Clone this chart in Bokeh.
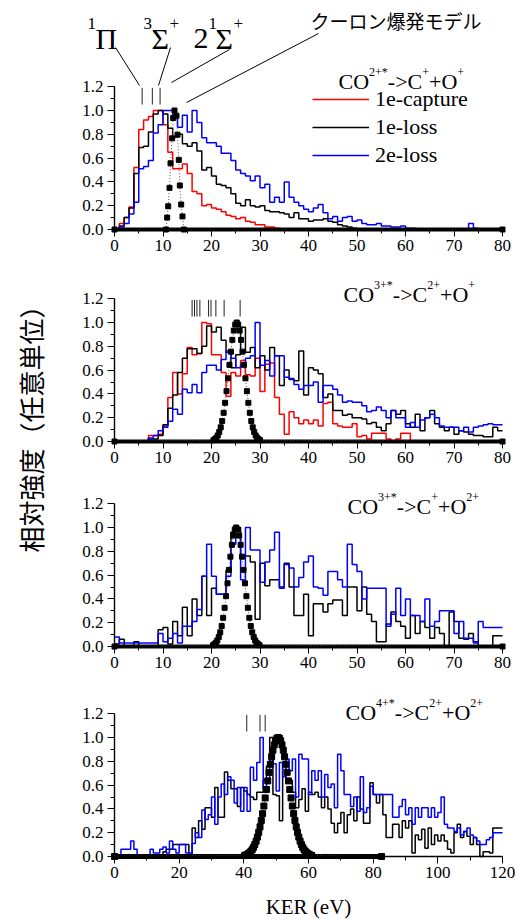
import math
from bokeh.plotting import figure
from bokeh.models import (Range1d, LinearAxis, FixedTicker, PrintfTickFormatter,
                          Label, Legend, LegendItem)
from bokeh.embed import file_html
from bokeh.resources import INLINE

# ------------------------------------------------------------------ data
edges80 = list(range(0, 81))
edges120 = list(range(0, 121))

y_ticks = [0.0, 0.2, 0.4, 0.6, 0.8, 1.0, 1.2]
y_minor = [0.1, 0.3, 0.5, 0.7, 0.9, 1.1]
x_ticks80 = [0, 10, 20, 30, 40, 50, 60, 70, 80]
x_minor80 = [5, 15, 25, 35, 45, 55, 65, 75]
x_ticks120 = [0, 20, 40, 60, 80, 100, 120]
x_minor120 = [10, 30, 50, 70, 90, 110]

series_names = ["1e-capture", "1e-loss", "2e-loss"]

# panel 1: CO2+* -> C+ + O+
p1_capture = [0.00, 0.05, 0.10, 0.19, 0.52, 0.84, 0.92, 0.95, 1.00, 1.00,
              0.88, 0.65, 0.51, 0.51, 0.55, 0.47, 0.32, 0.30, 0.20, 0.21,
              0.18, 0.17, 0.15, 0.12, 0.11, 0.09, 0.10, 0.07, 0.06, 0.04,
              0.04, 0.02, 0.02, 0.01, 0.00, 0.00, 0.00, 0.00, 0.00, 0.00,
              0.00, 0.00, 0.00, 0.00, 0.00, 0.00, 0.00, 0.00, 0.00, 0.00,
              0.00, 0.00, 0.00, 0.00, 0.00, 0.00, 0.00, 0.00, 0.00, 0.00,
              0.00, 0.00, 0.00, 0.00, 0.00, 0.00, 0.00, 0.00, 0.00, 0.00,
              0.00, 0.00, 0.00, 0.00, 0.00, 0.00, 0.00, 0.00, 0.00, 0.00]
p1_loss1 = [0.00, 0.03, 0.10, 0.18, 0.47, 0.69, 0.70, 0.82, 0.97, 1.00,
            0.97, 0.85, 0.78, 0.80, 0.72, 0.70, 0.73, 0.66, 0.50, 0.52,
            0.45, 0.38, 0.37, 0.35, 0.30, 0.22, 0.20, 0.25, 0.20, 0.19,
            0.20, 0.16, 0.15, 0.15, 0.14, 0.13, 0.10, 0.14, 0.09, 0.09,
            0.07, 0.08, 0.08, 0.09, 0.07, 0.06, 0.04, 0.03, 0.02, 0.01,
            0.00, 0.00, 0.00, 0.00, 0.00, 0.00, 0.00, 0.00, 0.00, 0.00,
            0.00, 0.00, 0.00, 0.00, 0.00, 0.00, 0.00, 0.00, 0.00, 0.00,
            0.00, 0.00, 0.00, 0.00, 0.00, 0.00, 0.00, 0.00, 0.00, 0.00]
p1_loss2 = [0.00, 0.02, 0.05, 0.13, 0.23, 0.51, 0.53, 0.58, 0.81, 0.88,
            1.00, 1.00, 0.96, 0.86, 0.96, 0.82, 1.00, 0.90, 0.77, 0.73,
            0.73, 0.70, 0.64, 0.64, 0.58, 0.50, 0.47, 0.45, 0.41, 0.45,
            0.35, 0.38, 0.23, 0.27, 0.23, 0.40, 0.27, 0.23, 0.20, 0.17,
            0.15, 0.18, 0.21, 0.14, 0.09, 0.11, 0.07, 0.10, 0.11, 0.07,
            0.08, 0.05, 0.04, 0.04, 0.05, 0.03, 0.03, 0.02, 0.02, 0.03,
            0.01, 0.01, 0.00, 0.00, 0.00, 0.00, 0.00, 0.00, 0.00, 0.00,
            0.00, 0.00, 0.00, 0.05, 0.01, 0.00, 0.00, 0.00, 0.00, 0.00]
p1_model_x = [0.0, 10.6, 10.86, 11.07, 11.34, 11.55, 11.89, 12.10, 12.37,
              12.78, 12.99, 13.26, 13.47, 13.75, 14.02, 14.3, 80.0]
p1_model_y = [0.0, 0.0, 0.10, 0.195, 0.35, 0.556, 0.766, 0.937, 1.0,
              0.956, 0.797, 0.585, 0.37, 0.21, 0.11, 0.0, 0.0]
p1_states = [5.7, 7.8, 9.4]

# panel 2: CO3+* -> C2+ + O+
p2_capture = [0.00, 0.00, 0.00, 0.00, 0.00, 0.00, 0.00, 0.05, 0.05, 0.06,
              0.13, 0.37, 0.58, 0.40, 0.57, 0.79, 0.73, 0.74, 1.00, 0.99,
              0.73, 0.73, 0.58, 0.38, 0.58, 0.55, 0.68, 0.56, 0.55, 0.70,
              0.42, 0.65, 0.66, 0.37, 0.23, 0.06, 0.25, 0.20, 0.15, 0.18,
              0.15, 0.18, 0.13, 0.32, 0.33, 0.15, 0.13, 0.12, 0.12, 0.15,
              0.04, 0.05, 0.02, 0.07, 0.07, 0.07, 0.02, 0.00, 0.02, 0.07,
              0.07, 0.00, 0.00, 0.00, 0.00, 0.00, 0.00, 0.00, 0.00, 0.00,
              0.00, 0.00, 0.00, 0.00, 0.00, 0.00, 0.00, 0.00, 0.00, 0.00]
p2_loss1 = [0.00, 0.00, 0.00, 0.00, 0.00, 0.00, 0.00, 0.02, 0.02, 0.05,
            0.14, 0.28, 0.39, 0.58, 0.70, 0.78, 0.78, 0.74, 0.80, 0.97,
            0.92, 0.96, 0.85, 0.75, 0.62, 0.73, 0.96, 0.75, 0.79, 0.62,
            0.72, 0.60, 0.79, 0.72, 0.47, 0.60, 0.52, 0.51, 0.76, 0.39,
            0.62, 0.60, 0.57, 0.37, 0.40, 0.26, 0.26, 0.22, 0.23, 0.20,
            0.20, 0.19, 0.15, 0.16, 0.12, 0.09, 0.15, 0.26, 0.23, 0.26,
            0.15, 0.12, 0.23, 0.09, 0.20, 0.26, 0.15, 0.12, 0.09, 0.12,
            0.06, 0.09, 0.08, 0.06, 0.05, 0.05, 0.04, 0.04, 0.12, 0.09]
p2_loss2 = [0.00, 0.00, 0.00, 0.00, 0.00, 0.00, 0.00, 0.03, 0.05, 0.09,
            0.12, 0.17, 0.27, 0.23, 0.44, 0.41, 0.48, 0.41, 0.58, 0.64,
            0.64, 0.60, 0.69, 0.76, 0.70, 0.62, 0.65, 0.70, 0.72, 1.00,
            0.64, 0.68, 0.55, 0.72, 0.72, 0.54, 0.53, 0.48, 0.44, 0.47,
            0.47, 0.50, 0.33, 0.47, 0.47, 0.44, 0.39, 0.33, 0.34, 0.33,
            0.33, 0.30, 0.25, 0.26, 0.29, 0.26, 0.20, 0.26, 0.20, 0.20,
            0.12, 0.16, 0.12, 0.18, 0.20, 0.23, 0.20, 0.13, 0.12, 0.12,
            0.12, 0.09, 0.12, 0.08, 0.12, 0.13, 0.14, 0.15, 0.14, 0.14]
p2_model_x = [0.0, 20.4, 20.7, 21.0, 21.3, 21.6, 21.9, 22.2, 22.5, 22.8, 23.1,
              23.4, 23.7, 24.0, 24.3, 24.6, 24.9, 25.2, 25.5, 25.8, 26.1,
              26.4, 26.7, 27.0, 27.3, 27.6, 27.9, 28.2, 28.5, 28.8, 29.1,
              29.4, 29.7, 30.0, 80.0]
p2_model_y = [0.0, 0.011, 0.019, 0.032, 0.051, 0.080, 0.119, 0.172, 0.241,
              0.325, 0.423, 0.531, 0.644, 0.755, 0.854, 0.932, 0.983, 1.0,
              0.983, 0.932, 0.854, 0.755, 0.644, 0.531, 0.423, 0.325, 0.241,
              0.172, 0.119, 0.080, 0.051, 0.032, 0.019, 0.011, 0.0]
p2_states = [16.0, 16.5, 17.0, 17.6, 19.4, 19.9, 20.9, 22.6, 25.9]

# panel 3: CO3+* -> C+ + O2+
p3_loss1 = [0.02, 0.06, 0.00, 0.00, 0.04, 0.00, 0.00, 0.00, 0.00, 0.14,
            0.16, 0.02, 0.21, 0.09, 0.33, 0.09, 0.40, 0.26, 0.59, 0.26,
            0.49, 0.44, 0.44, 0.64, 0.96, 1.00, 0.76, 0.76, 0.71, 0.23,
            0.70, 0.51, 0.56, 0.56, 0.50, 0.70, 0.50, 0.26, 0.26, 0.44,
            0.09, 0.36, 0.36, 0.29, 0.36, 0.39, 0.39, 0.26, 0.50, 0.50,
            0.30, 0.50, 0.27, 0.21, 0.04, 0.04, 0.19, 0.29, 0.21, 0.17,
            0.07, 0.26, 0.11, 0.21, 0.16, 0.07, 0.16, 0.11, 0.00, 0.29,
            0.21, 0.07, 0.06, 0.11, 0.04, 0.00, 0.00, 0.00, 0.09, 0.09]
p3_loss2 = [0.08, 0.03, 0.03, 0.03, 0.03, 0.03, 0.03, 0.03, 0.03, 0.11,
            0.04, 0.07, 0.11, 0.03, 0.17, 0.17, 0.21, 0.31, 0.59, 0.86,
            0.59, 0.44, 0.44, 0.59, 0.86, 0.92, 0.56, 1.00, 0.81, 0.81,
            0.54, 0.71, 0.81, 0.96, 0.49, 0.69, 0.66, 0.50, 0.58, 0.71,
            0.76, 0.50, 0.49, 0.43, 0.63, 0.63, 0.56, 0.50, 0.86, 0.69,
            0.63, 0.40, 0.49, 0.49, 0.49, 0.49, 0.17, 0.27, 0.49, 0.26,
            0.40, 0.26, 0.26, 0.21, 0.40, 0.17, 0.21, 0.30, 0.30, 0.30,
            0.11, 0.21, 0.07, 0.07, 0.03, 0.21, 0.16, 0.16, 0.16, 0.16]
p3_model_x = [0.0, 20.3, 20.6, 20.9, 21.2, 21.5, 21.8, 22.1, 22.4, 22.7, 23.0,
              23.3, 23.6, 23.9, 24.2, 24.5, 24.8, 25.1, 25.4, 25.7, 26.0,
              26.3, 26.6, 26.9, 27.2, 27.5, 27.8, 28.1, 28.4, 28.7, 29.0,
              29.3, 29.6, 29.9, 80.0]
p3_model_y = [0.0, 0.011, 0.019, 0.032, 0.051, 0.080, 0.119, 0.172, 0.241,
              0.325, 0.423, 0.531, 0.644, 0.755, 0.854, 0.932, 0.983, 1.0,
              0.983, 0.932, 0.854, 0.755, 0.644, 0.531, 0.423, 0.325, 0.241,
              0.172, 0.119, 0.080, 0.051, 0.032, 0.019, 0.011, 0.0]

# panel 4: CO4+* -> C2+ + O2+
p4_loss1 = [0.00, 0.00, 0.00, 0.00, 0.00, 0.00, 0.00, 0.00, 0.00, 0.00,
            0.00, 0.00, 0.00, 0.00, 0.00, 0.04, 0.06, 0.06, 0.10, 0.10,
            0.10, 0.10, 0.10, 0.00, 0.24, 0.16, 0.30, 0.23, 0.41, 0.41,
            0.33, 0.58, 0.33, 0.33, 0.71, 0.64, 0.57, 0.57, 0.42, 0.58,
            0.55, 0.52, 0.50, 0.48, 0.54, 0.54, 0.64, 0.76, 1.00, 0.52,
            0.51, 0.30, 0.79, 0.64, 0.64, 0.54, 0.41, 0.48, 0.57, 0.38,
            0.54, 0.52, 0.54, 0.50, 0.41, 0.50, 0.40, 0.28, 0.20, 0.28,
            0.37, 0.20, 0.35, 0.40, 0.30, 0.50, 0.40, 0.28, 0.28, 0.62,
            0.52, 0.45, 0.52, 0.35, 0.16, 0.16, 0.27, 0.27, 0.16, 0.30,
            0.24, 0.30, 0.03, 0.18, 0.14, 0.23, 0.07, 0.24, 0.10, 0.18,
            0.13, 0.18, 0.13, 0.06, 0.03, 0.20, 0.27, 0.16, 0.21, 0.17,
            0.10, 0.16, 0.10, 0.00, 0.04, 0.04, 0.03, 0.24, 0.24, 0.24]
p4_loss2 = [0.00, 0.00, 0.06, 0.06, 0.06, 0.13, 0.06, 0.00, 0.00, 0.00,
            0.00, 0.06, 0.03, 0.03, 0.06, 0.08, 0.03, 0.13, 0.06, 0.03,
            0.10, 0.10, 0.03, 0.03, 0.11, 0.20, 0.16, 0.39, 0.31, 0.35,
            0.50, 0.27, 0.50, 0.61, 0.52, 0.67, 0.64, 0.45, 0.58, 0.38,
            0.58, 0.38, 0.75, 0.64, 0.79, 1.00, 0.57, 0.64, 0.84, 0.78,
            0.55, 0.79, 0.67, 0.82, 0.72, 0.82, 0.50, 0.86, 0.82, 0.82,
            0.52, 0.72, 0.64, 0.72, 0.50, 0.69, 0.58, 0.61, 0.41, 0.86,
            0.72, 0.52, 0.52, 0.42, 0.50, 0.38, 0.67, 0.37, 0.41, 0.59,
            0.52, 0.52, 0.52, 0.52, 0.52, 0.52, 0.33, 0.33, 0.42, 0.48,
            0.35, 0.41, 0.27, 0.41, 0.33, 0.41, 0.41, 0.33, 0.41, 0.33,
            0.37, 0.50, 0.27, 0.24, 0.24, 0.21, 0.24, 0.18, 0.21, 0.24,
            0.18, 0.16, 0.13, 0.10, 0.10, 0.14, 0.16, 0.20, 0.20, 0.20]
p4_model_x = [0.0, 40.2, 40.6, 41.0, 41.4, 41.8, 42.2, 42.6, 43.0, 43.4, 43.8,
              44.2, 44.6, 45.0, 45.4, 45.8, 46.2, 46.6, 47.0, 47.4, 47.8,
              48.2, 48.6, 49.0, 49.4, 49.8, 50.2, 50.6, 51.0, 51.4, 51.8,
              52.2, 52.6, 53.0, 53.4, 53.8, 54.2, 54.6, 55.0, 55.4, 55.8,
              56.2, 56.6, 57.0, 57.4, 57.8, 58.2, 58.6, 59.0, 59.4, 59.8,
              60.2, 60.6, 61.0, 82.6]
p4_model_y = [0.0, 0.008, 0.012, 0.017, 0.024, 0.032, 0.044, 0.059, 0.078,
              0.101, 0.129, 0.163, 0.203, 0.249, 0.302, 0.360, 0.424, 0.492,
              0.563, 0.635, 0.707, 0.775, 0.838, 0.893, 0.938, 0.972, 0.993,
              1.0, 0.993, 0.972, 0.938, 0.893, 0.838, 0.775, 0.707, 0.635,
              0.563, 0.492, 0.424, 0.360, 0.302, 0.249, 0.203, 0.163, 0.129,
              0.101, 0.078, 0.059, 0.044, 0.032, 0.024, 0.017, 0.012, 0.008,
              0.0]
p4_states = [40.9, 45.0, 46.6]

# ------------------------------------------------------------------ layout
W, H = 518, 920
AX_L, AX_R = 114, 502
PPU_Y = 119.0
ZERO_ROW = {"default": 229, "p2": 441, "p3": 646, "p4": 856}
STATE_MARK = (1.05, 1.19)
RED, BLACK, BLUE = "#ff0000", "#000000", "#0000ff"
SERIF = "Liberation Serif"
CJK = "Noto Sans CJK JP"


def x_range_for(span):
    ppu = (AX_R - AX_L) / span
    return Range1d(-AX_L / ppu, (W - AX_L) / ppu)


def y_range_for(row):
    return Range1d(-(H - row) / PPU_Y, row / PPU_Y)


p = figure(width=W, height=H, output_backend="svg", toolbar_location=None,
           x_axis_type=None, y_axis_type=None,
           x_range=x_range_for(80), y_range=y_range_for(ZERO_ROW["default"]),
           min_border=0, min_border_left=0, min_border_right=0,
           min_border_top=0, min_border_bottom=0)
p.extra_x_ranges = {"x4": x_range_for(120)}
p.extra_y_ranges = {k: y_range_for(v) for k, v in ZERO_ROW.items() if k != "default"}
p.outline_line_color = None
p.background_fill_color = "white"
p.border_fill_color = "white"


def style_axis(ax):
    ax.axis_line_width = 1.4
    ax.axis_line_color = "black"
    ax.major_tick_line_color = "black"
    ax.minor_tick_line_color = "black"
    ax.major_tick_out = 7
    ax.major_tick_in = 0
    ax.minor_tick_out = 4
    ax.minor_tick_in = 0
    ax.major_label_text_font = SERIF
    ax.major_label_text_font_style = "normal"
    ax.major_label_text_font_size = "17px"
    ax.major_label_text_color = "black"


def add_axes(yname, xname, xmax, xt, xm, xlabel=None):
    yax = LinearAxis(y_range_name=yname, x_range_name=xname, fixed_location=0,
                     bounds=(0, 1.2),
                     ticker=FixedTicker(ticks=y_ticks, minor_ticks=y_minor),
                     formatter=PrintfTickFormatter(format="%.1f"))
    style_axis(yax)
    yax.major_label_standoff = 4
    p.add_layout(yax, "left")
    xax = LinearAxis(y_range_name=yname, x_range_name=xname, fixed_location=0,
                     bounds=(0, xmax),
                     ticker=FixedTicker(ticks=xt, minor_ticks=xm))
    style_axis(xax)
    xax.major_label_standoff = 3
    if xlabel:
        xax.axis_label = xlabel
        xax.axis_label_text_font = SERIF
        xax.axis_label_text_font_size = "21px"
        xax.axis_label_text_font_style = "normal"
        xax.axis_label_text_color = "black"
        xax.axis_label_standoff = 14
    p.add_layout(xax, "below")


def hist(vals, edges, color, yname, xname="default"):
    return p.step(x=edges, y=vals + [vals[-1]], mode="after", line_color=color,
                  line_width=1.5, y_range_name=yname, x_range_name=xname)


def model(mx, my, yname, xname, size, base_w):
    p.line(x=[min(mx), max(mx)], y=[0, 0], line_color="black", line_width=base_w,
           y_range_name=yname, x_range_name=xname)
    p.line(x=mx, y=my, line_color="#555555", line_width=1, line_dash="1 2",
           y_range_name=yname, x_range_name=xname)
    p.scatter(x=mx, y=my, marker="square", size=size, color="black",
              y_range_name=yname, x_range_name=xname)


def states(xs, yname, xname="default"):
    n = len(xs)
    p.segment(x0=xs, y0=[STATE_MARK[0]] * n, x1=xs, y1=[STATE_MARK[1]] * n,
              line_color="#222222", line_width=1, y_range_name=yname, x_range_name=xname)


def label(x_px, base_px, text, size, font=SERIF, **kw):
    p.add_layout(Label(x=x_px, y=H - base_px, x_units="screen", y_units="screen",
                       text=text, text_font=font, text_font_size=f"{size}px",
                       text_color="black", text_baseline=kw.pop("baseline", "alphabetic"),
                       text_align=kw.pop("align", "left"), **kw))


WIDTHS = {"C": 0.667, "O": 0.722, "1": 0.5, "2": 0.5, "3": 0.5, "4": 0.5,
          "+": 0.564, "*": 0.5, "-": 0.333, ">": 0.564}


def rich(x_px, base_px, parts, big=22, small=12, rise=10):
    x = x_px
    for txt, sup in parts:
        size = small if sup else big
        label(x, base_px - rise if sup else base_px, txt, size)
        x += sum(WIDTHS.get(c, 0.5) for c in txt) * size


# ---- panel 1
r_cap = hist(p1_capture, edges80, RED, "default")
r_l1 = hist(p1_loss1, edges80, BLACK, "default")
r_l2 = hist(p1_loss2, edges80, BLUE, "default")
model(p1_model_x, p1_model_y, "default", "default", 5, 4)
states(p1_states, "default")

# ---- panel 2
hist(p2_capture, edges80, RED, "p2")
hist(p2_loss1, edges80, BLACK, "p2")
hist(p2_loss2, edges80, BLUE, "p2")
model(p2_model_x, p2_model_y, "p2", "default", 5, 4)
states(p2_states, "p2")

# ---- panel 3
hist(p3_loss1, edges80, BLACK, "p3")
hist(p3_loss2, edges80, BLUE, "p3")
model(p3_model_x, p3_model_y, "p3", "default", 5, 4)

# ---- panel 4
hist(p4_loss1, edges120, BLACK, "p4", "x4")
hist(p4_loss2, edges120, BLUE, "p4", "x4")
model(p4_model_x, p4_model_y, "p4", "x4", 6, 5)
states(p4_states, "p4", "x4")

# ---- axes
add_axes("default", "default", 80, x_ticks80, x_minor80)
add_axes("p2", "default", 80, x_ticks80, x_minor80)
add_axes("p3", "default", 80, x_ticks80, x_minor80)
add_axes("p4", "x4", 120, x_ticks120, x_minor120, xlabel="KER (eV)")

# ---- legend (panel 1)
legend = Legend(items=[LegendItem(label=series_names[0], renderers=[r_cap]),
                       LegendItem(label=series_names[1], renderers=[r_l1]),
                       LegendItem(label=series_names[2], renderers=[r_l2])],
                location=(312, H - 169), orientation="vertical",
                glyph_width=57, glyph_height=28, label_height=28, label_standoff=6,
                spacing=0, padding=0, margin=0,
                border_line_color=None, background_fill_alpha=0,
                label_text_font=SERIF, label_text_font_size="22px",
                label_text_color="black")
p.add_layout(legend)

# ---- panel titles
rich(338, 81, [("CO", 0), ("2+*", 1), ("->C", 0), ("+", 1), ("+O", 0), ("+", 1)])
rich(343, 294, [("CO", 0), ("3+*", 1), ("->C", 0), ("2+", 1), ("+O", 0), ("+", 1)])
rich(347, 506, [("CO", 0), ("3+*", 1), ("->C", 0), ("+", 1), ("+O", 0), ("2+", 1)])
rich(345, 712, [("CO", 0), ("4+*", 1), ("->C", 0), ("2+", 1), ("+O", 0), ("2+", 1)])

# ---- state labels and leader lines (panel 1, top)
for txt, xp, bp, sz in [("1", 87, 23, 17), ("Π", 95, 38, 30),
                        ("3", 143, 23, 17), ("Σ", 151, 38, 30), ("+", 169, 23, 17),
                        ("2", 193, 38, 30), ("1", 208, 23, 17), ("Σ", 215, 38, 30),
                        ("+", 233, 23, 17)]:
    label(xp, bp, txt, sz)
label(310, 20, "クーロン爆発モデル", 19, font=CJK, baseline="middle")

PPU_X80 = (AX_R - AX_L) / 80
LEADERS_PX = [((115, 47), (139, 85)), ((170, 47), (158, 85)),
              ((229, 49), (171, 82)), ((318, 33), (186, 102))]
lx0 = [(a[0] - AX_L) / PPU_X80 for a, b in LEADERS_PX]
ly0 = [(ZERO_ROW["default"] - a[1]) / PPU_Y for a, b in LEADERS_PX]
lx1 = [(b[0] - AX_L) / PPU_X80 for a, b in LEADERS_PX]
ly1 = [(ZERO_ROW["default"] - b[1]) / PPU_Y for a, b in LEADERS_PX]
p.segment(x0=lx0, y0=ly0, x1=lx1, y1=ly1, line_color="black", line_width=1)

# ---- y-axis title (shared)
label(30, 422, "相対強度（任意単位）", 26, font=CJK, baseline="middle", align="center",
      angle=math.pi / 2)

open("out.html", "w").write(file_html(p, INLINE))
